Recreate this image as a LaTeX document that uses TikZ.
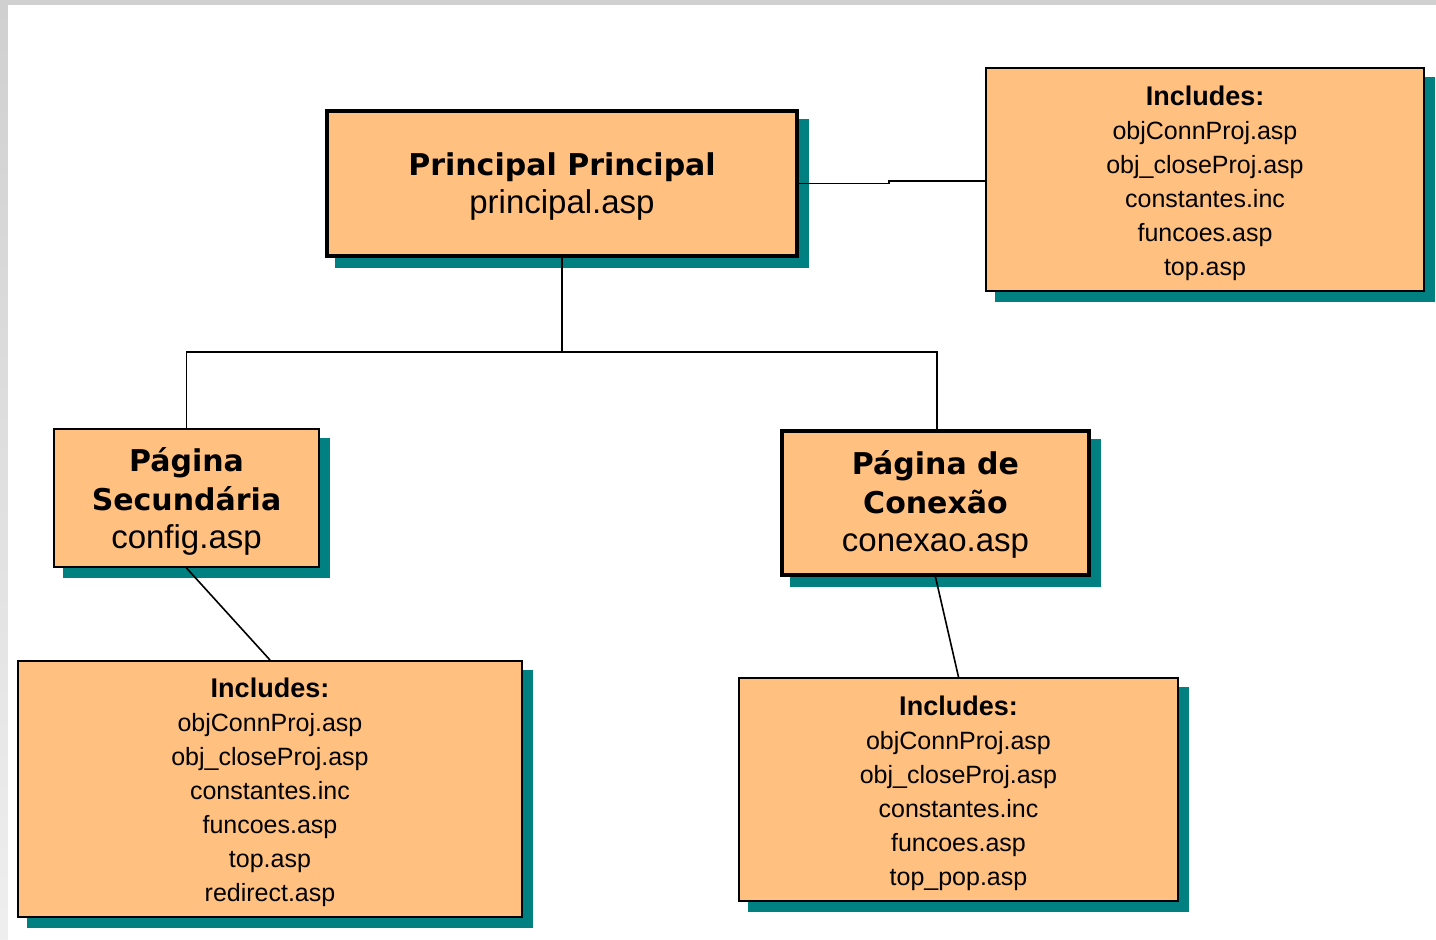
\documentclass[tikz,border=0pt]{standalone}
\usepackage{fontspec}
\setmainfont{Liberation Sans}
\newfontfamily\titlefont{DejaVu Sans}
\usetikzlibrary{backgrounds,calc}
\definecolor{boxfill}{RGB}{255,192,128}
\definecolor{shadowcol}{RGB}{0,128,128}
\definecolor{framegray}{RGB}{208,208,208}
\tikzset{
  box/.style={draw=black, fill=boxfill, rectangle, inner sep=0pt, outer sep=0.5\pgflinewidth, align=center, anchor=north west},
  thickbox/.style={box, line width=4pt},
  thinbox/.style={box, line width=2pt},
  link/.style={draw=black, line width=1.6pt},
  titletext/.style={font=\titlefont\bfseries\fontsize{30}{38.5}\selectfont},
  listtext/.style={font=\fontsize{25}{34}\selectfont},
}
\newcommand{\fname}[1]{{\normalfont\fontsize{33}{38.5}\selectfont #1}}
\newcommand{\inchead}{{\bfseries\fontsize{27}{34}\selectfont\rule{0pt}{27pt}Includes:}}
\begin{document}
\begin{tikzpicture}[x=1pt,y=-1pt]
\useasboundingbox (0,0) rectangle (1436,940);
% nodes (positions are the outer top-left corners)
\node[thickbox, titletext, minimum width=470pt, minimum height=145pt] (main) at (325,109)
  {\rule{0pt}{29pt}Principal Principal\\\fname{principal.asp}};
\node[thinbox, listtext, minimum width=438pt, minimum height=223pt] (incA) at (985,67)
  {\inchead\\objConnProj.asp\\obj\_closeProj.asp\\constantes.inc\\funcoes.asp\\top.asp};
\node[thinbox, titletext, minimum width=265pt, minimum height=138pt] (sec) at (53,428)
  {\rule{0pt}{31.5pt}Página\\Secundária\\\fname{config.asp}};
\node[thickbox, titletext, minimum width=307pt, minimum height=144pt] (con) at (780,429)
  {\rule{0pt}{27pt}Página de\\Conexão\\\fname{conexao.asp}};
\node[thinbox, listtext, minimum width=504pt, minimum height=256pt] (incB) at (17,660)
  {\inchead\\objConnProj.asp\\obj\_closeProj.asp\\constantes.inc\\funcoes.asp\\top.asp\\redirect.asp};
\node[thinbox, listtext, minimum width=439pt, minimum height=223pt] (incC) at (738,677)
  {\inchead\\objConnProj.asp\\obj\_closeProj.asp\\constantes.inc\\funcoes.asp\\top\_pop.asp};
% connectors
\coordinate (bus) at (562,352);
\coordinate (stepA) at (889,183.5);
\coordinate (stepB) at (889,181);
\draw[link] (main.south -| bus) -- (bus);
\draw[link] (sec.north) |- (bus) -| (con.north -| 937,0);
\draw[link] (main.east |- stepA) -- (stepA) -- (stepB) -- (incA.west |- stepB);
\draw[link] (sec.south) -- (incB.north);
\draw[link] (con.south) -- (incC.north);
% background, frame and shadows
\begin{pgfonlayer}{background}
  \fill[framegray] (0,0) rectangle (1436,940);
  \shade[top color=framegray, bottom color=framegray!35] (0,5) rectangle (8,940);
  \fill[white] (8,5) rectangle (1436,940);
  \foreach \n in {main,incA,sec,con,incB,incC}{
    \fill[shadowcol] ($(\n.north west)+(10,10)$) rectangle ($(\n.south east)+(10,10)$);
  }
\end{pgfonlayer}
\end{tikzpicture}
\end{document}
